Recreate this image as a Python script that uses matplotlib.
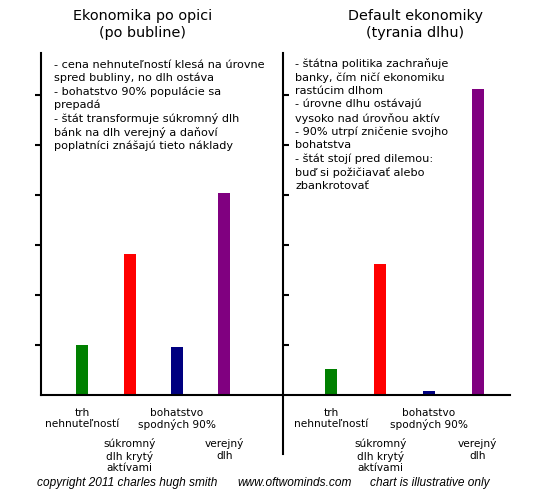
import matplotlib
matplotlib.use("Agg")
import matplotlib.pyplot as plt

# bar categories (same for both panels)
categories = ["trh\nnehnuteľností", "súkromný\ndlh krytý\naktívami",
              "bohatstvo\nspodných 90%", "verejný\ndlh"]
colors = ["#008000", "#ff0000", "#000080", "#800080"]

# illustrative values (1 unit = one tick)
after_bubble = [1.0, 2.82, 0.96, 4.04]
default_econ = [0.52, 2.62, 0.08, 6.12]

titles = ["Ekonomika po opici\n(po bubline)", "Default ekonomiky\n(tyrania dlhu)"]
notes_left = ("- cena nehnuteľností klesá na úrovne\n"
              "spred bubliny, no dlh ostáva\n"
              "- bohatstvo 90% populácie sa\n"
              "prepadá\n"
              "- štát transformuje súkromný dlh\n"
              "bánk na dlh verejný a daňoví\n"
              "poplatníci znášajú tieto náklady")
notes_right = ("- štátna politika zachraňuje\n"
               "banky, čím ničí ekonomiku\n"
               "rastúcim dlhom\n"
               "- úrovne dlhu ostávajú\n"
               "vysoko nad úrovňou aktív\n"
               "- 90% utrpí zničenie svojho\n"
               "bohatstva\n"
               "- štát stojí pred dilemou:\n"
               "buď si požičiavať alebo\n"
               "zbankrotovať")
footer = ["copyright 2011 charles hugh smith", "www.oftwominds.com",
          "chart is illustrative only"]

plt.rcParams["font.family"] = ["DejaVu Sans"]

W, H = 545, 495
fig = plt.figure(figsize=(W / 100, H / 100), dpi=100)

def px(x0, y_top, x1, y_bot):
    return [x0 / W, 1 - y_bot / H, (x1 - x0) / W, (y_bot - y_top) / H]

ax1 = fig.add_axes(px(41, 53, 283, 395))
ax2 = fig.add_axes(px(283, 53, 510, 395))

ymax = 342 / 50
pos = list(range(len(categories)))

ax1.bar(pos, after_bubble, width=0.254, color=colors)
ax1.set_xlim(-0.877, 4.24)
ax2.bar(pos, default_econ, width=0.246, color=colors)
ax2.set_xlim(-0.994, 3.66)

for ax in (ax1, ax2):
    ax.set_ylim(0, ymax)
    ax.set_yticks([1, 2, 3, 4, 5, 6])
    ax.set_yticklabels([])
    ax.set_xticks([])
    for s in ("top", "right"):
        ax.spines[s].set_visible(False)
    ax.spines["left"].set_linewidth(1.5)
    ax.spines["bottom"].set_linewidth(1.5)
    ax.patch.set_visible(False)
    for i, lab in enumerate(categories):
        off = -9 if i % 2 == 0 else -31
        ax.annotate(lab, xy=(i, 0), xytext=(0, off), textcoords="offset points",
                    ha="center", va="top", fontsize=7.6, linespacing=1.2,
                    multialignment="center", annotation_clip=False)

ax1.tick_params(axis="y", direction="out", length=4, width=1.5)
ax2.tick_params(axis="y", direction="in", length=4, width=1.5)
# right panel axis runs on below the baseline
ax2.spines["left"].set_bounds(-1.18, ymax)

fig.text(142.5 / W, 1 - 9 / H, titles[0], ha="center", va="top", fontsize=10.4,
         linespacing=1.25)
fig.text(415 / W, 1 - 9 / H, titles[1], ha="center", va="top", fontsize=10.4,
         linespacing=1.25)

fig.text(54 / W, 1 - 60 / H, notes_left, ha="left", va="top", fontsize=8.1,
         linespacing=1.33)
fig.text(295 / W, 1 - 58 / H, notes_right, ha="left", va="top", fontsize=8.1,
         linespacing=1.37)

fx = [37, 237, 370]
for x, t in zip(fx, footer):
    fig.text(x / W, 1 - 483 / H, t, ha="left", va="center", fontsize=8.6,
             style="italic", family="Liberation Sans")

fig.savefig("out.png", dpi=100)
